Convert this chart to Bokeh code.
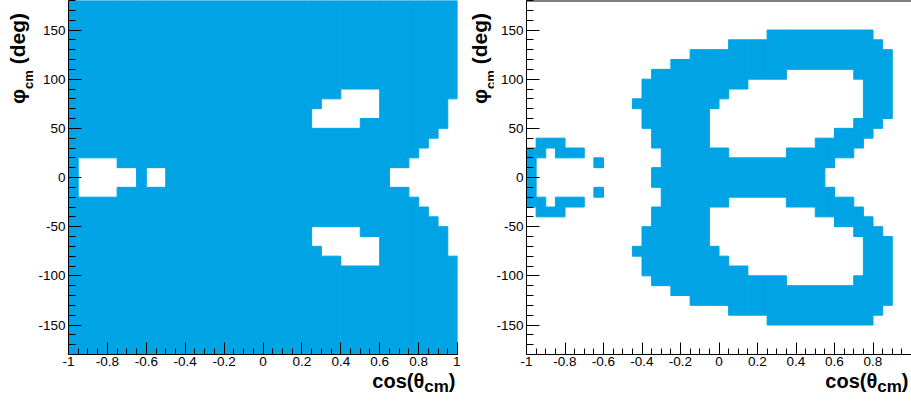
import numpy as np
from bokeh.plotting import figure
from bokeh.models import Range1d, FixedTicker, NumeralTickFormatter, Div, Span
from bokeh.layouts import row, column
from bokeh.embed import file_html
from bokeh.resources import INLINE

# ---------------- histogram binning ----------------
x_lo, x_hi, x_step = -1.0, 1.0, 0.05      # cos(theta_cm) bins
y_lo, y_hi, y_step = -180.0, 180.0, 10.0  # phi_cm bins (deg)

# ---------------- left panel: empty bins (phi >= 0 half, mirrored in phi) ----------------
left_empty_x0 = [-0.95, -0.75, -0.60, 0.25, 0.30, 0.40, 0.50, 0.65, 0.75, 0.80, 0.85, 0.90, 0.95]
left_empty_x1 = [-0.75, -0.65, -0.50, 0.30, 0.40, 0.50, 0.60, 0.75, 0.80, 0.85, 0.90, 0.95, 1.00]
left_empty_y0 = [0, 0, 0, 50, 50, 50, 60, 0, 0, 0, 0, 0, 0]
left_empty_y1 = [20, 10, 10, 70, 80, 90, 90, 10, 20, 30, 40, 50, 80]

# ---------------- right panel: filled bins (phi >= 0 half, mirrored in phi) ----------------
right_fill_x0 = [-1.00, -0.95, -0.90, -0.85, -0.80, -0.65,
                 -0.45, -0.40, -0.35, -0.35, -0.30, -0.25, -0.15,
                 -0.05, -0.05, 0.00, 0.00, 0.05, 0.05, 0.15, 0.15,
                 0.25, 0.25, 0.35, 0.35, 0.50, 0.50, 0.55, 0.55,
                 0.60, 0.60, 0.70, 0.70, 0.75, 0.80, 0.85]
right_fill_x1 = [-0.95, -0.90, -0.85, -0.80, -0.70, -0.60,
                 -0.40, -0.35, -0.30, -0.30, -0.25, -0.15, -0.05,
                 0.00, 0.00, 0.05, 0.05, 0.15, 0.15, 0.25, 0.25,
                 0.35, 0.35, 0.50, 0.50, 0.55, 0.55, 0.60, 0.60,
                 0.70, 0.70, 0.75, 0.75, 0.80, 0.85, 0.90]
right_fill_y0 = [0, 20, 30, 20, 20, 10,
                 70, 50, 0, 30, 0, 0, 0,
                 0, 70, 0, 80, 0, 90, 0, 100,
                 0, 100, 0, 110, 0, 110, 10, 110,
                 20, 110, 30, 100, 40, 50, 60]
right_fill_y1 = [30, 40, 40, 40, 30, 20,
                 80, 100, 10, 110, 110, 120, 130,
                 30, 130, 30, 130, 20, 140, 20, 140,
                 20, 150, 30, 150, 40, 150, 40, 150,
                 50, 150, 60, 150, 150, 140, 130]

# ---------------- axis ticks / labels ----------------
x_tick_values = [-1.0, -0.8, -0.6, -0.4, -0.2, 0.0, 0.2, 0.4, 0.6, 0.8, 1.0]
x_tick_labels = ["-1", "-0.8", "-0.6", "-0.4", "-0.2", "0", "0.2", "0.4", "0.6", "0.8", "1"]
y_tick_values = [-150, -100, -50, 0, 50, 100, 150]
y_tick_labels = ["-150", "-100", "-50", "0", "50", "100", "150"]
x_title_main, x_title_sub, x_title_end = "cos(θ", "cm", ")"
y_title_main, y_title_sub, y_title_end = "φ", "cm", "&nbsp;(deg)"

BLUE = "#00A4E4"
FONT = "Liberation Sans"

nx = int(round((x_hi - x_lo) / x_step))
ny = int(round((y_hi - y_lo) / y_step))


def xi(v):
    return int(round((v - x_lo) / x_step))


def yj(v):
    return int(round((v - y_lo) / y_step))


def paint(grid, x0s, x1s, y0s, y1s, val):
    for a, b, c, d in zip(x0s, x1s, y0s, y1s):
        grid[xi(a):xi(b), yj(c):yj(d)] = val
        grid[xi(a):xi(b), yj(-d):yj(-c)] = val


left_grid = np.ones((nx, ny), dtype=bool)
paint(left_grid, left_empty_x0, left_empty_x1, left_empty_y0, left_empty_y1, False)
right_grid = np.zeros((nx, ny), dtype=bool)
paint(right_grid, right_fill_x0, right_fill_x1, right_fill_y0, right_fill_y1, True)


def grid_quads(grid):
    """merge filled bins into rectangles: vertical runs, joined across equal neighbouring columns"""
    out = []
    open_runs = {}
    for i in range(nx + 1):
        runs = []
        if i < nx:
            j = 0
            while j < ny:
                if grid[i, j]:
                    k = j
                    while k < ny and grid[i, k]:
                        k += 1
                    runs.append((j, k))
                    j = k
                else:
                    j += 1
        new_open = {}
        for r in runs:
            new_open[r] = open_runs.get(r, i)
        for r, s in open_runs.items():
            if r not in new_open:
                out.append((s, i, r[0], r[1]))
        open_runs = new_open
    return dict(
        left=[x_lo + q[0] * x_step for q in out],
        right=[x_lo + q[1] * x_step for q in out],
        bottom=[y_lo + q[2] * y_step for q in out],
        top=[y_lo + q[3] * y_step for q in out],
    )


# ---------------- layout (pixels) ----------------
FRAME_H = 354
FIG_H = 374
XT_H = 24
x_minor = [round(x_lo + k * x_step, 2) for k in range(nx + 1)]
y_minor = [y_lo + k * y_step for k in range(ny + 1)]


def make_fig(width, border_left, border_right, x_labels_keep):
    p = figure(width=width, height=FIG_H, x_range=Range1d(x_lo, x_hi), y_range=Range1d(y_lo, y_hi),
               output_backend="svg", toolbar_location=None,
               min_border_left=border_left, min_border_right=border_right,
               min_border_top=0, min_border_bottom=FIG_H - FRAME_H,
               background_fill_color="white", border_fill_color="white",
               outline_line_color=None)
    p.grid.visible = False
    xt = [v for v in x_tick_values if v in x_labels_keep]
    p.xaxis.ticker = FixedTicker(ticks=xt, minor_ticks=x_minor)
    p.xaxis.formatter = NumeralTickFormatter(format="0.[0]")
    p.xaxis.major_label_overrides = {v: l for v, l in zip(x_tick_values, x_tick_labels) if v in x_labels_keep}
    p.yaxis.ticker = FixedTicker(ticks=y_tick_values, minor_ticks=y_minor)
    p.yaxis.major_label_overrides = {v: l for v, l in zip(y_tick_values, y_tick_labels)}
    for ax in (p.xaxis[0], p.yaxis[0]):
        ax.axis_line_color = "black"
        ax.axis_line_width = 1
        ax.major_tick_line_color = "black"
        ax.minor_tick_line_color = "black"
        ax.major_tick_out = 0
        ax.minor_tick_out = 0
        ax.major_label_text_font = FONT
        ax.major_label_text_font_size = "13.5px"
        ax.major_label_text_color = "black"
    p.xaxis.major_tick_in = 12
    p.xaxis.minor_tick_in = 6
    p.xaxis.major_label_standoff = 2
    p.yaxis.major_tick_in = 13
    p.yaxis.minor_tick_in = 7
    p.yaxis.major_label_standoff = 3
    return p


def y_title_div(width, tx):
    html = (
        f'<div style="width:120px;height:21px;line-height:21px;text-align:right;white-space:nowrap;'
        f'font-family:\'{FONT}\';font-weight:bold;font-size:21px;color:black;'
        f'transform-origin:0 0;transform:translate({tx}px,133px) rotate(-90deg);">'
        f'{y_title_main}<span style="font-size:13px;position:relative;top:8px;">{y_title_sub}</span>'
        f'{y_title_end}</div>'
    )
    return Div(text=html, width=width, height=FIG_H, margin=0, styles={"overflow": "visible"})


def x_title_div(width, text_right):
    html = (
        f'<div style="width:{text_right}px;height:20px;line-height:20px;text-align:right;white-space:nowrap;'
        f'font-family:\'{FONT}\';font-weight:bold;font-size:20px;color:black;'
        f'position:relative;top:-3px;">'
        f'{x_title_main}<span style="font-size:17px;position:relative;top:4px;">{x_title_sub}</span>'
        f'{x_title_end}</div>'
    )
    return Div(text=html, width=width, height=XT_H, margin=0, styles={"overflow": "visible"})


# left panel
p1 = make_fig(425, 32, 3, x_tick_values)
p1.quad(fill_color=BLUE, line_color=BLUE, line_width=1, **grid_quads(left_grid))

# right panel
p2 = make_fig(418, 30, 0, x_tick_values[:-1])
p2.quad(fill_color=BLUE, line_color=BLUE, line_width=1, **grid_quads(right_grid))
p2.add_layout(Span(location=y_hi, dimension="width", line_color="black", line_width=2))

top_row = row(y_title_div(35, 7.2), p1, y_title_div(33, 9.2), p2)
bottom_row = row(x_title_div(460, 455.5), x_title_div(451, 448.5))
layout = column(top_row, bottom_row)
open("out.html", "w").write(file_html(layout, INLINE))
